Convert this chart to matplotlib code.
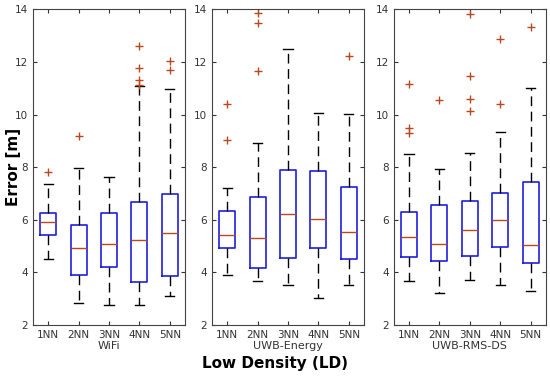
import matplotlib
matplotlib.use("Agg")
import matplotlib.pyplot as plt

categories = ["1NN", "2NN", "3NN", "4NN", "5NN"]
panels = ["WiFi", "UWB-Energy", "UWB-RMS-DS"]

# each: [whislo, q1, med, q3, whishi]
wifi = [[4.49, 5.41, 5.90, 6.24, 7.36],
        [2.85, 3.90, 4.93, 5.81, 7.98],
        [2.75, 4.22, 5.09, 6.24, 7.64],
        [2.77, 3.62, 5.25, 6.67, 11.10],
        [3.11, 3.87, 5.51, 6.98, 10.96]]
wifi_out = [[7.83], [9.18], [], [12.61, 11.76, 11.30, 11.12], [12.02, 11.69]]

uwb_energy = [[3.89, 4.91, 5.41, 6.34, 7.22],
              [3.68, 4.16, 5.32, 6.86, 8.93],
              [3.51, 4.56, 6.21, 7.90, 12.50],
              [3.01, 4.91, 6.04, 7.85, 10.07],
              [3.51, 4.51, 5.52, 7.26, 10.02]]
uwb_energy_out = [[10.39, 9.02], [13.85, 13.49, 11.66], [], [], [12.24]]

uwb_rms = [[3.66, 4.60, 5.33, 6.31, 8.52],
           [3.20, 4.43, 5.08, 6.57, 7.92],
           [3.71, 4.62, 5.61, 6.70, 8.55],
           [3.53, 4.96, 5.99, 7.03, 9.35],
           [3.29, 4.34, 5.04, 7.45, 11.02]]
uwb_rms_out = [[11.15, 9.48, 9.29], [10.54], [13.82, 11.47, 10.59, 10.13], [12.87, 10.39], [13.34]]

data = [(wifi, wifi_out), (uwb_energy, uwb_energy_out), (uwb_rms, uwb_rms_out)]

fig = plt.figure(figsize=(5.5, 3.77), dpi=100)
lefts = [0.060, 0.3855, 0.716]
width = 0.2764
bottom = 0.138
height = 0.837
med_color = "#b8481e"
for i, (title, (stats, outs)) in enumerate(zip(panels, data)):
    ax = fig.add_axes([lefts[i], bottom, width, height])
    bs = []
    for j, (s, o) in enumerate(zip(stats, outs)):
        bs.append(dict(whislo=s[0], q1=s[1], med=s[2], q3=s[3], whishi=s[4],
                       fliers=o, label=categories[j]))
    ax.bxp(bs, positions=range(1, 6), widths=0.53, capwidths=0.3,
           boxprops=dict(color="#1f1fe0", linewidth=1.2),
           medianprops=dict(color=med_color, linewidth=1.0),
           whiskerprops=dict(color="black", linewidth=1.0, linestyle=(0, (7, 4))),
           capprops=dict(color="black", linewidth=1.0),
           flierprops=dict(marker="+", markeredgecolor=med_color, markersize=6,
                           markeredgewidth=1.0, linestyle="none"))
    ax.set_xlim(0.5, 5.5)
    ax.set_ylim(2, 14)
    ax.set_yticks(range(2, 15, 2))
    ax.set_xticks(range(1, 6))
    ax.set_xticklabels(categories)
    ax.tick_params(direction="in", top=True, right=True, labelsize=7.5,
                   length=3, colors="#333333", labelcolor="#333333")
    for sp in ax.spines.values():
        sp.set_color("#444444")
        sp.set_linewidth(0.8)
    ax.set_xlabel(title, fontsize=8, color="#333333", labelpad=1)

fig.text(0.024, 0.557, "Error [m]", rotation=90, ha="center", va="center",
         fontsize=11, fontweight="bold")
fig.text(0.5, 0.035, "Low Density (LD)", ha="center", va="center",
         fontsize=11, fontweight="bold")
fig.savefig("out.png", dpi=100)
